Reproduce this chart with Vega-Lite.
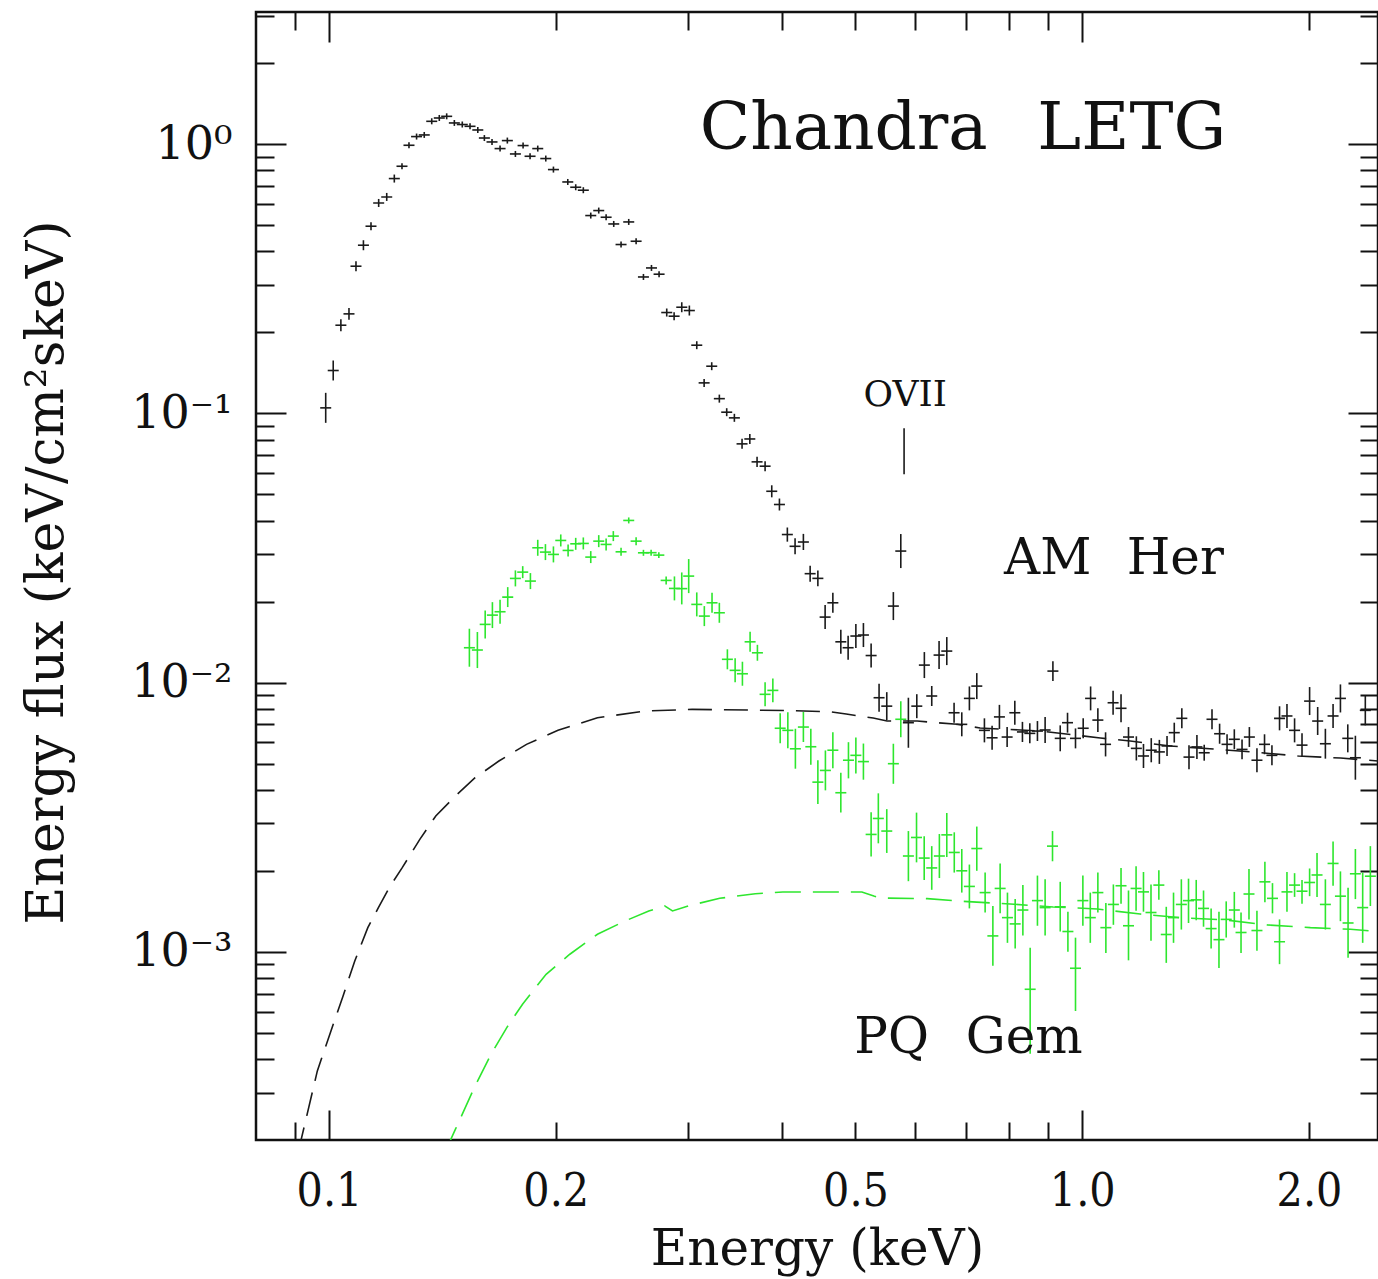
{
"$schema": "https://vega.github.io/schema/vega-lite/v6.json",
"width": 1122, "height": 1128,
"autosize": {"type": "none"},
"padding": {"left": 256, "top": 12, "right": 0, "bottom": 139},
"background": "white",
"config": {
 "view": {"stroke": "#111111", "strokeWidth": 2.5},
 "axis": {"grid": false, "domain": false, "tickColor": "#111111", "tickWidth": 2, "labelColor": "#111111", "titleColor": "#111111", "labelFont": "DejaVu Serif", "titleFont": "DejaVu Serif", "titleFontWeight": "normal", "labelFlush": false, "labelOverlap": false}
},
"resolve": {"axis": {"x": "independent", "y": "independent"}},
"datasets": {
 "amher": [
  {"E":0.0990,"F":0.1049,"lo":0.0923,"hi":0.1193},
  {"E":0.1013,"F":0.1444,"lo":0.1326,"hi":0.1573},
  {"E":0.1037,"F":0.2127,"lo":0.2021,"hi":0.2239},
  {"E":0.1063,"F":0.2344,"lo":0.2227,"hi":0.2467},
  {"E":0.1086,"F":0.3524,"lo":0.3376,"hi":0.3678},
  {"E":0.1111,"F":0.4217,"lo":0.4040,"hi":0.4401},
  {"E":0.1137,"F":0.4961,"lo":0.4794,"hi":0.5134},
  {"E":0.1164,"F":0.6053,"lo":0.5849,"hi":0.6264},
  {"E":0.1193,"F":0.6373,"lo":0.6159,"hi":0.6595},
  {"E":0.1221,"F":0.7458,"lo":0.7207,"hi":0.7718},
  {"E":0.1250,"F":0.8286,"lo":0.8076,"hi":0.8501},
  {"E":0.1277,"F":0.9915,"lo":0.9664,"hi":1.0173},
  {"E":0.1307,"F":1.068,"lo":1.041,"hi":1.096},
  {"E":0.1338,"F":1.083,"lo":1.056,"hi":1.111},
  {"E":0.1369,"F":1.217,"lo":1.186,"hi":1.249},
  {"E":0.1401,"F":1.252,"lo":1.220,"hi":1.285},
  {"E":0.1433,"F":1.270,"lo":1.238,"hi":1.303},
  {"E":0.1467,"F":1.200,"lo":1.170,"hi":1.231},
  {"E":0.1503,"F":1.184,"lo":1.154,"hi":1.215},
  {"E":0.1539,"F":1.166,"lo":1.136,"hi":1.196},
  {"E":0.1576,"F":1.130,"lo":1.101,"hi":1.159},
  {"E":0.1608,"F":1.055,"lo":1.028,"hi":1.082},
  {"E":0.1646,"F":1.020,"lo":0.994,"hi":1.047},
  {"E":0.1687,"F":0.9638,"lo":0.9394,"hi":0.9889},
  {"E":0.1725,"F":1.032,"lo":1.006,"hi":1.059},
  {"E":0.1768,"F":0.9205,"lo":0.8972,"hi":0.9444},
  {"E":0.1810,"F":0.989,"lo":0.964,"hi":1.015},
  {"E":0.1849,"F":0.9025,"lo":0.8796,"hi":0.9260},
  {"E":0.1893,"F":0.9638,"lo":0.9394,"hi":0.9889},
  {"E":0.1940,"F":0.885,"lo":0.8626,"hi":0.9080},
  {"E":0.1986,"F":0.8054,"lo":0.7850,"hi":0.8263},
  {"E":0.2075,"F":0.7244,"lo":0.7060,"hi":0.7432},
  {"E":0.2126,"F":0.6924,"lo":0.6749,"hi":0.7104},
  {"E":0.2176,"F":0.6750,"lo":0.6579,"hi":0.6926},
  {"E":0.2226,"F":0.5435,"lo":0.5297,"hi":0.5576},
  {"E":0.2281,"F":0.5672,"lo":0.5528,"hi":0.5819},
  {"E":0.2333,"F":0.5357,"lo":0.5221,"hi":0.5496},
  {"E":0.2388,"F":0.5058,"lo":0.4930,"hi":0.5190},
  {"E":0.2442,"F":0.4242,"lo":0.4134,"hi":0.4352},
  {"E":0.2500,"F":0.5146,"lo":0.5016,"hi":0.5280},
  {"E":0.2557,"F":0.4363,"lo":0.4252,"hi":0.4476},
  {"E":0.2615,"F":0.3214,"lo":0.3133,"hi":0.3298},
  {"E":0.2680,"F":0.3472,"lo":0.3384,"hi":0.3562},
  {"E":0.2743,"F":0.3291,"lo":0.3208,"hi":0.3377},
  {"E":0.2808,"F":0.2371,"lo":0.2291,"hi":0.2454},
  {"E":0.2872,"F":0.2298,"lo":0.2221,"hi":0.2378},
  {"E":0.2940,"F":0.2481,"lo":0.2377,"hi":0.2589},
  {"E":0.3009,"F":0.2412,"lo":0.2311,"hi":0.2517},
  {"E":0.3078,"F":0.1793,"lo":0.1733,"hi":0.1855},
  {"E":0.3148,"F":0.1299,"lo":0.1255,"hi":0.1344},
  {"E":0.3222,"F":0.1498,"lo":0.1448,"hi":0.1550},
  {"E":0.3298,"F":0.1135,"lo":0.1097,"hi":0.1175},
  {"E":0.3373,"F":0.1011,"lo":0.0977,"hi":0.1046},
  {"E":0.3453,"F":0.0963,"lo":0.0931,"hi":0.0997},
  {"E":0.3535,"F":0.0771,"lo":0.0739,"hi":0.0805},
  {"E":0.3620,"F":0.0804,"lo":0.0770,"hi":0.0839},
  {"E":0.3701,"F":0.0661,"lo":0.0633,"hi":0.0690},
  {"E":0.3793,"F":0.0637,"lo":0.0610,"hi":0.0665},
  {"E":0.3871,"F":0.0514,"lo":0.0488,"hi":0.0541},
  {"E":0.3963,"F":0.0459,"lo":0.0436,"hi":0.0483},
  {"E":0.4060,"F":0.0355,"lo":0.0334,"hi":0.0377},
  {"E":0.4157,"F":0.0321,"lo":0.0300,"hi":0.0344},
  {"E":0.4264,"F":0.0333,"lo":0.0311,"hi":0.0357},
  {"E":0.4353,"F":0.0254,"lo":0.0237,"hi":0.0272},
  {"E":0.4457,"F":0.0244,"lo":0.0228,"hi":0.0261},
  {"E":0.4557,"F":0.01752,"lo":0.01581,"hi":0.01941},
  {"E":0.4666,"F":0.01980,"lo":0.01818,"hi":0.02157},
  {"E":0.4781,"F":0.01418,"lo":0.01280,"hi":0.01571},
  {"E":0.4889,"F":0.01348,"lo":0.01217,"hi":0.01494},
  {"E":0.5006,"F":0.01490,"lo":0.01345,"hi":0.01651},
  {"E":0.5123,"F":0.01503,"lo":0.01356,"hi":0.01665},
  {"E":0.5245,"F":0.01261,"lo":0.01138,"hi":0.01397},
  {"E":0.5374,"F":0.00879,"lo":0.00780,"hi":0.00991},
  {"E":0.5502,"F":0.00818,"lo":0.00726,"hi":0.00922},
  {"E":0.5614,"F":0.01925,"lo":0.01708,"hi":0.02170},
  {"E":0.5743,"F":0.03082,"lo":0.02665,"hi":0.03565},
  {"E":0.5878,"F":0.00710,"lo":0.00573,"hi":0.00879},
  {"E":0.6031,"F":0.00818,"lo":0.00738,"hi":0.00906},
  {"E":0.6172,"F":0.01162,"lo":0.01040,"hi":0.01299},
  {"E":0.6313,"F":0.00892,"lo":0.00819,"hi":0.00972},
  {"E":0.6456,"F":0.01266,"lo":0.01123,"hi":0.01427},
  {"E":0.6610,"F":0.01310,"lo":0.01162,"hi":0.01477},
  {"E":0.6759,"F":0.00773,"lo":0.00710,"hi":0.00842},
  {"E":0.6920,"F":0.00700,"lo":0.00632,"hi":0.00776},
  {"E":0.7083,"F":0.00874,"lo":0.00789,"hi":0.00968},
  {"E":0.7245,"F":0.00971,"lo":0.00869,"hi":0.01085},
  {"E":0.7416,"F":0.00665,"lo":0.00600,"hi":0.00737},
  {"E":0.7592,"F":0.00624,"lo":0.00563,"hi":0.00691},
  {"E":0.7764,"F":0.00746,"lo":0.00673,"hi":0.00827},
  {"E":0.7949,"F":0.00628,"lo":0.00577,"hi":0.00684},
  {"E":0.8138,"F":0.00773,"lo":0.00698,"hi":0.00856},
  {"E":0.8330,"F":0.00656,"lo":0.00602,"hi":0.00715},
  {"E":0.8520,"F":0.00648,"lo":0.00595,"hi":0.00706},
  {"E":0.8721,"F":0.00661,"lo":0.00607,"hi":0.00720},
  {"E":0.8928,"F":0.00667,"lo":0.00597,"hi":0.00745},
  {"E":0.9143,"F":0.01104,"lo":0.01014,"hi":0.01202},
  {"E":0.9350,"F":0.00621,"lo":0.00556,"hi":0.00694},
  {"E":0.9561,"F":0.00710,"lo":0.00652,"hi":0.00773},
  {"E":0.9797,"F":0.00621,"lo":0.00570,"hi":0.00676},
  {"E":1.003,"F":0.00677,"lo":0.00622,"hi":0.00737},
  {"E":1.026,"F":0.00874,"lo":0.00789,"hi":0.00968},
  {"E":1.049,"F":0.00726,"lo":0.00655,"hi":0.00804},
  {"E":1.074,"F":0.00590,"lo":0.00532,"hi":0.00654},
  {"E":1.099,"F":0.00842,"lo":0.00760,"hi":0.00933},
  {"E":1.126,"F":0.00803,"lo":0.00712,"hi":0.00905},
  {"E":1.152,"F":0.00628,"lo":0.00577,"hi":0.00684},
  {"E":1.180,"F":0.00570,"lo":0.00514,"hi":0.00632},
  {"E":1.206,"F":0.00534,"lo":0.00482,"hi":0.00592},
  {"E":1.235,"F":0.00561,"lo":0.00506,"hi":0.00622},
  {"E":1.266,"F":0.00553,"lo":0.00499,"hi":0.00613},
  {"E":1.296,"F":0.00582,"lo":0.00534,"hi":0.00634},
  {"E":1.325,"F":0.00652,"lo":0.00599,"hi":0.00710},
  {"E":1.356,"F":0.00737,"lo":0.00677,"hi":0.00803},
  {"E":1.386,"F":0.00529,"lo":0.00477,"hi":0.00586},
  {"E":1.420,"F":0.00577,"lo":0.00521,"hi":0.00639},
  {"E":1.452,"F":0.00549,"lo":0.00513,"hi":0.00588},
  {"E":1.487,"F":0.00731,"lo":0.00671,"hi":0.00796},
  {"E":1.522,"F":0.00646,"lo":0.00593,"hi":0.00704},
  {"E":1.557,"F":0.00590,"lo":0.00542,"hi":0.00643},
  {"E":1.592,"F":0.00616,"lo":0.00566,"hi":0.00671},
  {"E":1.630,"F":0.00565,"lo":0.00519,"hi":0.00615},
  {"E":1.667,"F":0.00628,"lo":0.00577,"hi":0.00684},
  {"E":1.706,"F":0.00515,"lo":0.00465,"hi":0.00571},
  {"E":1.746,"F":0.00590,"lo":0.00542,"hi":0.00643},
  {"E":1.786,"F":0.00537,"lo":0.00493,"hi":0.00585},
  {"E":1.828,"F":0.00737,"lo":0.00665,"hi":0.00817},
  {"E":1.870,"F":0.00752,"lo":0.00679,"hi":0.00833},
  {"E":1.914,"F":0.00665,"lo":0.00600,"hi":0.00737},
  {"E":1.958,"F":0.00586,"lo":0.00529,"hi":0.00649},
  {"E":2.004,"F":0.00854,"lo":0.00758,"hi":0.00963},
  {"E":2.054,"F":0.00720,"lo":0.00639,"hi":0.00812},
  {"E":2.103,"F":0.00593,"lo":0.00522,"hi":0.00674},
  {"E":2.153,"F":0.00752,"lo":0.00679,"hi":0.00833},
  {"E":2.202,"F":0.00874,"lo":0.00775,"hi":0.00985},
  {"E":2.252,"F":0.00621,"lo":0.00551,"hi":0.00700},
  {"E":2.305,"F":0.00526,"lo":0.00436,"hi":0.00635},
  {"E":2.376,"F":0.00789,"lo":0.00694,"hi":0.00897}
 ],
 "pqgem": [
  {"E":0.1536,"F":0.01348,"lo":0.01146,"hi":0.01586},
  {"E":0.1574,"F":0.01322,"lo":0.01133,"hi":0.01542},
  {"E":0.1612,"F":0.01646,"lo":0.01460,"hi":0.01855},
  {"E":0.1648,"F":0.01782,"lo":0.01595,"hi":0.01991},
  {"E":0.1687,"F":0.01834,"lo":0.01655,"hi":0.02032},
  {"E":0.1727,"F":0.02079,"lo":0.01909,"hi":0.02264},
  {"E":0.1768,"F":0.02439,"lo":0.02278,"hi":0.02612},
  {"E":0.1808,"F":0.02574,"lo":0.02445,"hi":0.02709},
  {"E":0.1851,"F":0.02384,"lo":0.02226,"hi":0.02553},
  {"E":0.1893,"F":0.03170,"lo":0.02960,"hi":0.03394},
  {"E":0.1938,"F":0.03055,"lo":0.02853,"hi":0.03271},
  {"E":0.1986,"F":0.02995,"lo":0.02797,"hi":0.03207},
  {"E":0.2031,"F":0.03375,"lo":0.03206,"hi":0.03553},
  {"E":0.2077,"F":0.03099,"lo":0.02944,"hi":0.03262},
  {"E":0.2126,"F":0.03279,"lo":0.03115,"hi":0.03451},
  {"E":0.2176,"F":0.03290,"lo":0.03126,"hi":0.03463},
  {"E":0.2226,"F":0.02927,"lo":0.02781,"hi":0.03081},
  {"E":0.2281,"F":0.03355,"lo":0.03187,"hi":0.03532},
  {"E":0.2333,"F":0.03262,"lo":0.03099,"hi":0.03434},
  {"E":0.2385,"F":0.03503,"lo":0.03356,"hi":0.03656},
  {"E":0.2442,"F":0.03062,"lo":0.02959,"hi":0.03169},
  {"E":0.2500,"F":0.04005,"lo":0.03904,"hi":0.04109},
  {"E":0.2557,"F":0.03355,"lo":0.03242,"hi":0.03472},
  {"E":0.2615,"F":0.03036,"lo":0.02959,"hi":0.03115},
  {"E":0.2677,"F":0.03040,"lo":0.02963,"hi":0.03119},
  {"E":0.2741,"F":0.02977,"lo":0.02902,"hi":0.03054},
  {"E":0.2803,"F":0.02398,"lo":0.02317,"hi":0.02481},
  {"E":0.2875,"F":0.02239,"lo":0.02021,"hi":0.02481},
  {"E":0.2940,"F":0.02235,"lo":0.01953,"hi":0.02567},
  {"E":0.3003,"F":0.02488,"lo":0.02151,"hi":0.02878},
  {"E":0.3078,"F":0.01953,"lo":0.01763,"hi":0.02164},
  {"E":0.3150,"F":0.01767,"lo":0.01622,"hi":0.01925},
  {"E":0.3225,"F":0.01980,"lo":0.01818,"hi":0.02157},
  {"E":0.3298,"F":0.01818,"lo":0.01669,"hi":0.01980},
  {"E":0.3380,"F":0.01221,"lo":0.01121,"hi":0.01330},
  {"E":0.3461,"F":0.01111,"lo":0.01003,"hi":0.01231},
  {"E":0.3539,"F":0.01079,"lo":0.00974,"hi":0.01196},
  {"E":0.3623,"F":0.01418,"lo":0.01302,"hi":0.01545},
  {"E":0.3705,"F":0.01291,"lo":0.01206,"hi":0.01382},
  {"E":0.3793,"F":0.00905,"lo":0.00817,"hi":0.01003},
  {"E":0.3884,"F":0.00936,"lo":0.00845,"hi":0.01037},
  {"E":0.3972,"F":0.00677,"lo":0.00595,"hi":0.00770},
  {"E":0.4066,"F":0.00665,"lo":0.00570,"hi":0.00776},
  {"E":0.4161,"F":0.00568,"lo":0.00479,"hi":0.00674},
  {"E":0.4264,"F":0.00684,"lo":0.00602,"hi":0.00778},
  {"E":0.4362,"F":0.00578,"lo":0.00495,"hi":0.00674},
  {"E":0.4457,"F":0.00427,"lo":0.00354,"hi":0.00515},
  {"E":0.4561,"F":0.00472,"lo":0.00398,"hi":0.00560},
  {"E":0.4666,"F":0.00561,"lo":0.00481,"hi":0.00654},
  {"E":0.4781,"F":0.00390,"lo":0.00329,"hi":0.00463},
  {"E":0.4894,"F":0.00515,"lo":0.00441,"hi":0.00601},
  {"E":0.5006,"F":0.00537,"lo":0.00460,"hi":0.00626},
  {"E":0.5123,"F":0.00509,"lo":0.00436,"hi":0.00594},
  {"E":0.5245,"F":0.00273,"lo":0.00226,"hi":0.00330},
  {"E":0.5362,"F":0.00313,"lo":0.00253,"hi":0.00388},
  {"E":0.5502,"F":0.00281,"lo":0.00233,"hi":0.00339},
  {"E":0.5614,"F":0.00500,"lo":0.00421,"hi":0.00593},
  {"E":0.5743,"F":0.00731,"lo":0.00627,"hi":0.00853},
  {"E":0.5878,"F":0.00227,"lo":0.00183,"hi":0.00281},
  {"E":0.6026,"F":0.00266,"lo":0.00215,"hi":0.00329},
  {"E":0.6169,"F":0.00223,"lo":0.00185,"hi":0.00269},
  {"E":0.6313,"F":0.00205,"lo":0.00170,"hi":0.00247},
  {"E":0.6462,"F":0.00227,"lo":0.00188,"hi":0.00274},
  {"E":0.6610,"F":0.00272,"lo":0.00225,"hi":0.00328},
  {"E":0.6763,"F":0.00234,"lo":0.00197,"hi":0.00278},
  {"E":0.6920,"F":0.00200,"lo":0.00166,"hi":0.00241},
  {"E":0.7083,"F":0.00175,"lo":0.00145,"hi":0.00211},
  {"E":0.7245,"F":0.00242,"lo":0.00200,"hi":0.00292},
  {"E":0.7432,"F":0.00166,"lo":0.00140,"hi":0.00197},
  {"E":0.7610,"F":0.001146,"lo":0.000887,"hi":0.001481},
  {"E":0.7781,"F":0.00172,"lo":0.00139,"hi":0.00213},
  {"E":0.7957,"F":0.00134,"lo":0.00108,"hi":0.00166},
  {"E":0.8147,"F":0.00127,"lo":0.00103,"hi":0.00157},
  {"E":0.8341,"F":0.00143,"lo":0.00115,"hi":0.00177},
  {"E":0.8529,"F":0.000726,"lo":0.000418,"hi":0.001036},
  {"E":0.8721,"F":0.00155,"lo":0.00125,"hi":0.00192},
  {"E":0.8928,"F":0.00146,"lo":0.00115,"hi":0.00186},
  {"E":0.9132,"F":0.00247,"lo":0.00217,"hi":0.00281},
  {"E":0.9350,"F":0.00147,"lo":0.00119,"hi":0.00182},
  {"E":0.9572,"F":0.00119,"lo":0.00100,"hi":0.00141},
  {"E":0.9797,"F":0.000869,"lo":0.000603,"hi":0.001129},
  {"E":1.002,"F":0.00155,"lo":0.00125,"hi":0.00192},
  {"E":1.025,"F":0.00134,"lo":0.00108,"hi":0.00166},
  {"E":1.049,"F":0.00166,"lo":0.00140,"hi":0.00197},
  {"E":1.075,"F":0.00123,"lo":0.00099,"hi":0.00152},
  {"E":1.100,"F":0.00150,"lo":0.00126,"hi":0.00178},
  {"E":1.126,"F":0.00176,"lo":0.00151,"hi":0.00205},
  {"E":1.152,"F":0.00125,"lo":0.00093,"hi":0.00169},
  {"E":1.179,"F":0.00172,"lo":0.00142,"hi":0.00208},
  {"E":1.206,"F":0.00167,"lo":0.00141,"hi":0.00198},
  {"E":1.234,"F":0.00140,"lo":0.00110,"hi":0.00178},
  {"E":1.264,"F":0.00177,"lo":0.00156,"hi":0.00201},
  {"E":1.293,"F":0.00116,"lo":0.00091,"hi":0.00147},
  {"E":1.322,"F":0.00134,"lo":0.00108,"hi":0.00166},
  {"E":1.354,"F":0.00150,"lo":0.00121,"hi":0.00186},
  {"E":1.384,"F":0.00155,"lo":0.00128,"hi":0.00187},
  {"E":1.417,"F":0.00156,"lo":0.00131,"hi":0.00185},
  {"E":1.449,"F":0.00145,"lo":0.00124,"hi":0.00169},
  {"E":1.483,"F":0.00122,"lo":0.00103,"hi":0.00145},
  {"E":1.519,"F":0.00111,"lo":0.00087,"hi":0.00141},
  {"E":1.553,"F":0.00132,"lo":0.00113,"hi":0.00154},
  {"E":1.592,"F":0.00143,"lo":0.00123,"hi":0.00167},
  {"E":1.625,"F":0.00118,"lo":0.00099,"hi":0.00140},
  {"E":1.665,"F":0.00164,"lo":0.00132,"hi":0.00203},
  {"E":1.706,"F":0.00120,"lo":0.00101,"hi":0.00142},
  {"E":1.748,"F":0.00182,"lo":0.00153,"hi":0.00216},
  {"E":1.789,"F":0.00158,"lo":0.00139,"hi":0.00180},
  {"E":1.828,"F":0.00109,"lo":0.00090,"hi":0.00132},
  {"E":1.870,"F":0.00167,"lo":0.00141,"hi":0.00198},
  {"E":1.914,"F":0.00177,"lo":0.00160,"hi":0.00196},
  {"E":1.958,"F":0.00168,"lo":0.00151,"hi":0.00185},
  {"E":2.004,"F":0.00181,"lo":0.00161,"hi":0.00204},
  {"E":2.050,"F":0.00193,"lo":0.00160,"hi":0.00233},
  {"E":2.103,"F":0.00150,"lo":0.00121,"hi":0.00186},
  {"E":2.153,"F":0.00213,"lo":0.00176,"hi":0.00257},
  {"E":2.202,"F":0.00161,"lo":0.00130,"hi":0.00199},
  {"E":2.254,"F":0.00128,"lo":0.00095,"hi":0.00173},
  {"E":2.305,"F":0.00195,"lo":0.00157,"hi":0.00241},
  {"E":2.357,"F":0.00146,"lo":0.00108,"hi":0.00197},
  {"E":2.413,"F":0.00191,"lo":0.00148,"hi":0.00247}
 ],
 "amherModel": [
  {"E":0.0911,"F":0.0001822},{"E":0.0965,"F":0.0003612},{"E":0.1006,"F":0.0005086},{"E":0.1044,"F":0.000686},
  {"E":0.1082,"F":0.0009252},{"E":0.1126,"F":0.00123},{"E":0.1163,"F":0.001459},{"E":0.1206,"F":0.001757},
  {"E":0.1251,"F":0.002054},{"E":0.1320,"F":0.002618},{"E":0.1386,"F":0.003196},{"E":0.1472,"F":0.003792},
  {"E":0.1563,"F":0.004434},{"E":0.1681,"F":0.005115},{"E":0.1829,"F":0.0059},{"E":0.2014,"F":0.00665},
  {"E":0.2272,"F":0.007408},{"E":0.2627,"F":0.007843},{"E":0.3035,"F":0.007959},{"E":0.4057,"F":0.007876},
  {"E":0.4627,"F":0.007795},{"E":0.4860,"F":0.007645},{"E":0.5278,"F":0.007389},{"E":0.5507,"F":0.007202},
  {"E":0.6037,"F":0.007202},{"E":0.6823,"F":0.007002},{"E":0.7319,"F":0.006784},{"E":0.8793,"F":0.006613},
  {"E":1.057,"F":0.006228},{"E":1.158,"F":0.00607},{"E":1.309,"F":0.005816},{"E":1.493,"F":0.005668},
  {"E":1.687,"F":0.005525},{"E":1.936,"F":0.005338},{"E":2.202,"F":0.005248},{"E":2.472,"F":0.005115}
 ],
 "pqgemModel": [
  {"E":0.1428,"F":0.0001822},{"E":0.1472,"F":0.0002194},{"E":0.1563,"F":0.0003177},{"E":0.1641,"F":0.0004165},
  {"E":0.1722,"F":0.0005231},{"E":0.1807,"F":0.0006389},{"E":0.1942,"F":0.0008254},{"E":0.2088,"F":0.0009797},
  {"E":0.2272,"F":0.0011624},{"E":0.2472,"F":0.001302},{"E":0.2658,"F":0.0014186},{"E":0.2790,"F":0.001481},
  {"E":0.2858,"F":0.0014186},{"E":0.2998,"F":0.001481},{"E":0.3302,"F":0.001581},{"E":0.3681,"F":0.001644},
  {"E":0.4005,"F":0.001669},{"E":0.5099,"F":0.001669},{"E":0.5288,"F":0.001612},{"E":0.5391,"F":0.001585},
  {"E":0.6226,"F":0.001576},{"E":0.7055,"F":0.001536},{"E":0.8022,"F":0.001506},{"E":0.9152,"F":0.001468},
  {"E":1.047,"F":0.001443},{"E":1.194,"F":0.001382},{"E":1.349,"F":0.00134},{"E":1.548,"F":0.001314},
  {"E":1.761,"F":0.001259},{"E":2.009,"F":0.00123},{"E":2.270,"F":0.001213},{"E":2.472,"F":0.001189}
 ]
},
"layer": [
 {
  "data": {"name": "amher"},
  "mark": {"type": "rule", "color": "#1a1a1a", "strokeWidth": 1.6, "clip": true},
  "encoding": {
   "x": {"field": "E", "type": "quantitative", "scale": {"type": "log", "domain": [0.08, 2.47], "nice": false},
    "axis": {"orient": "bottom", "values": [0.1, 0.2, 0.5, 1, 2], "ticks": false, "labelExpr": "format(datum.value, '.1f')", "labelFontSize": 46, "labelFont": "DejaVu Serif Condensed, DejaVu Serif", "labelPadding": 29, "labelBaseline": "top", "labelAlign": "center", "title": "Energy (keV)", "titleFontSize": 50, "titleY": 124, "titleBaseline": "alphabetic"}},
   "y": {"field": "lo", "type": "quantitative", "scale": {"type": "log", "domain": [0.0002, 3.1], "nice": false},
    "axis": {"orient": "left", "values": [0.001, 0.01, 0.1, 1], "ticks": false, "labelExpr": "datum.value >= 0.5 ? '10⁰' : datum.value >= 0.05 ? '10⁻¹' : datum.value >= 0.005 ? '10⁻²' : '10⁻³'", "labelFontSize": 46, "labelPadding": 24, "labelBaseline": "middle", "title": "Energy flux (keV/cm²skeV)", "titleFontSize": 52, "titleAngle": 270, "titleX": -194, "titleY": 560, "titleAlign": "center", "titleBaseline": "alphabetic"}},
   "y2": {"field": "hi"}
  }
 },
 {
  "data": {"name": "amher"},
  "mark": {"type": "tick", "orient": "horizontal", "size": 11, "thickness": 1.6, "color": "#1a1a1a", "opacity": 1, "clip": true},
  "encoding": {
   "x": {"field": "E", "type": "quantitative", "scale": {"type": "log", "domain": [0.08, 2.47], "nice": false},
    "axis": {"orient": "bottom", "values": [0.1, 1], "labels": false, "tickSize": -30, "title": null}},
   "y": {"field": "F", "type": "quantitative", "scale": {"type": "log", "domain": [0.0002, 3.1], "nice": false},
    "axis": {"orient": "left", "values": [0.001, 0.01, 0.1, 1], "labels": false, "tickSize": -30, "title": null}}
  }
 },
 {
  "data": {"name": "pqgem"},
  "mark": {"type": "rule", "color": "#2ee62e", "strokeWidth": 1.6, "clip": true},
  "encoding": {
   "x": {"field": "E", "type": "quantitative", "scale": {"type": "log", "domain": [0.08, 2.47], "nice": false},
    "axis": {"orient": "bottom", "values": [0.09, 0.2, 0.3, 0.4, 0.5, 0.6, 0.7, 0.8, 0.9, 2], "labels": false, "tickSize": -18, "title": null}},
   "y": {"field": "lo", "type": "quantitative", "scale": {"type": "log", "domain": [0.0002, 3.1], "nice": false},
    "axis": {"orient": "left", "values": [0.0003, 0.0004, 0.0005, 0.0006, 0.0007, 0.0008, 0.0009, 0.002, 0.003, 0.004, 0.005, 0.006, 0.007, 0.008, 0.009, 0.02, 0.03, 0.04, 0.05, 0.06, 0.07, 0.08, 0.09, 0.2, 0.3, 0.4, 0.5, 0.6, 0.7, 0.8, 0.9, 2, 3], "labels": false, "tickSize": -18, "title": null}},
   "y2": {"field": "hi"}
  }
 },
 {
  "data": {"name": "pqgem"},
  "mark": {"type": "tick", "orient": "horizontal", "size": 11, "thickness": 1.6, "color": "#2ee62e", "opacity": 1, "clip": true},
  "encoding": {
   "x": {"field": "E", "type": "quantitative", "scale": {"type": "log", "domain": [0.08, 2.47], "nice": false},
    "axis": {"orient": "top", "values": [0.1, 1], "labels": false, "tickSize": -30, "title": null}},
   "y": {"field": "F", "type": "quantitative", "scale": {"type": "log", "domain": [0.0002, 3.1], "nice": false},
    "axis": {"orient": "right", "values": [0.001, 0.01, 0.1, 1], "labels": false, "tickSize": -30, "title": null}}
  }
 },
 {
  "data": {"name": "amherModel"},
  "mark": {"type": "line", "color": "#1a1a1a", "strokeWidth": 1.6, "strokeDash": [24, 12], "clip": true},
  "encoding": {
   "x": {"field": "E", "type": "quantitative", "scale": {"type": "log", "domain": [0.08, 2.47], "nice": false},
    "axis": {"orient": "top", "values": [0.09, 0.2, 0.3, 0.4, 0.5, 0.6, 0.7, 0.8, 0.9, 2], "labels": false, "tickSize": -18, "title": null}},
   "y": {"field": "F", "type": "quantitative", "scale": {"type": "log", "domain": [0.0002, 3.1], "nice": false},
    "axis": {"orient": "right", "values": [0.0003, 0.0004, 0.0005, 0.0006, 0.0007, 0.0008, 0.0009, 0.002, 0.003, 0.004, 0.005, 0.006, 0.007, 0.008, 0.009, 0.02, 0.03, 0.04, 0.05, 0.06, 0.07, 0.08, 0.09, 0.2, 0.3, 0.4, 0.5, 0.6, 0.7, 0.8, 0.9, 2, 3], "labels": false, "tickSize": -18, "title": null}}
  }
 },
 {
  "data": {"name": "pqgemModel"},
  "mark": {"type": "line", "color": "#2ee62e", "strokeWidth": 1.6, "strokeDash": [26, 12], "clip": true},
  "encoding": {
   "x": {"field": "E", "type": "quantitative", "axis": null},
   "y": {"field": "F", "type": "quantitative", "axis": null}
  }
 },
 {
  "data": {"values": [{"E": 0.5801, "F": 0.0882, "F2": 0.0595}]},
  "mark": {"type": "rule", "color": "#1a1a1a", "strokeWidth": 1.6},
  "encoding": {
   "x": {"field": "E", "type": "quantitative", "axis": null},
   "y": {"field": "F", "type": "quantitative", "axis": null},
   "y2": {"field": "F2"}
  }
 },
 {
  "data": {"values": [{"E": 0.4823, "F": 0.958, "label": "Chandra"}, {"E": 1.1635, "F": 0.958, "label": "LETG"}]},
  "mark": {"type": "text", "font": "DejaVu Serif", "fontSize": 66, "color": "#111111", "align": "center", "baseline": "alphabetic"},
  "encoding": {
   "x": {"field": "E", "type": "quantitative", "axis": null},
   "y": {"field": "F", "type": "quantitative", "axis": null},
   "text": {"field": "label"}
  }
 },
 {
  "data": {"values": [{"E": 0.900, "F": 0.02531, "label": "AM"}, {"E": 1.329, "F": 0.02531, "label": "Her"}, {"E": 0.5585, "F": 0.000421, "label": "PQ"}, {"E": 0.8375, "F": 0.000421, "label": "Gem"}]},
  "mark": {"type": "text", "font": "DejaVu Serif", "fontSize": 50, "color": "#111111", "align": "center", "baseline": "alphabetic"},
  "encoding": {
   "x": {"field": "E", "type": "quantitative", "axis": null},
   "y": {"field": "F", "type": "quantitative", "axis": null},
   "text": {"field": "label"}
  }
 },
 {
  "data": {"values": [{"E": 0.5821, "F": 0.1065, "label": "OVII"}]},
  "mark": {"type": "text", "font": "DejaVu Serif", "fontSize": 36, "color": "#111111", "align": "center", "baseline": "alphabetic"},
  "encoding": {
   "x": {"field": "E", "type": "quantitative", "axis": null},
   "y": {"field": "F", "type": "quantitative", "axis": null},
   "text": {"field": "label"}
  }
 }
]
}
